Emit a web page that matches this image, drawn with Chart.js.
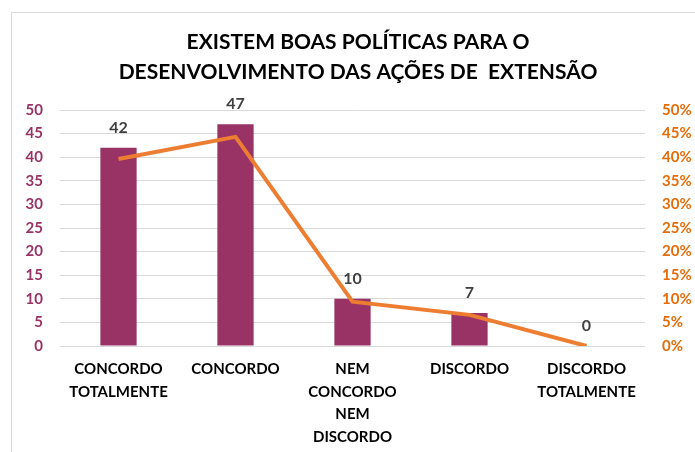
<!DOCTYPE html>
<html>
<head>
<meta charset="utf-8">
<script src="https://cdn.jsdelivr.net/npm/chart.js@4.4.0/dist/chart.umd.min.js"></script>
<style>
  html, body { margin: 0; padding: 0; background: #fff; }
  #frame { position: absolute; left: 11px; top: 12px; width: 720px; height: 480px; border: 1px solid #d9d9d9; }
  #wrap { position: absolute; left: 0; top: 0; width: 695px; height: 452px; }
</style>
</head>
<body>
<div id="frame"></div>
<div id="wrap"><canvas id="chart" width="695" height="452"></canvas></div>
<script>
const categories = [
  ['CONCORDO', 'TOTALMENTE'],
  'CONCORDO',
  ['NEM', 'CONCORDO', 'NEM', 'DISCORDO'],
  'DISCORDO',
  ['DISCORDO', 'TOTALMENTE']
];
const answers = [42, 47, 10, 7, 0];
const percents = [0.396, 0.443, 0.094, 0.066, 0];
const countTicks = [0, 5, 10, 15, 20, 25, 30, 35, 40, 45, 50];
const percentTicks = ['0%', '5%', '10%', '15%', '20%', '25%', '30%', '35%', '40%', '45%', '50%'];
const titleLines = ['EXISTEM BOAS POLÍTICAS PARA O', 'DESENVOLVIMENTO DAS AÇÕES DE  EXTENSÃO'];

const FONT = 'Lato, "Open Sans", sans-serif';

// two-line title, centred over the frame rather than the canvas
const chartTitle = {
  id: 'chartTitle',
  afterDraw(chart) {
    const ctx = chart.ctx;
    ctx.save();
    ctx.font = 'bold 21px ' + FONT;
    ctx.fillStyle = '#000';
    ctx.textAlign = 'center';
    ctx.textBaseline = 'middle';
    titleLines.forEach((line, i) => ctx.fillText(line, 358, 42 + i * 30));
    ctx.restore();
  }
};

// value labels above the bars
const barLabels = {
  id: 'barLabels',
  afterDatasetsDraw(chart) {
    const ctx = chart.ctx;
    const meta = chart.getDatasetMeta(1);
    ctx.save();
    ctx.font = 'bold 16px ' + FONT;
    ctx.fillStyle = '#404040';
    ctx.textAlign = 'center';
    ctx.textBaseline = 'middle';
    meta.data.forEach((bar, i) => {
      ctx.fillText(answers[i], bar.x, bar.y - 20);
    });
    ctx.restore();
  }
};

const ctx = document.getElementById('chart').getContext('2d');
const chart = new Chart(ctx, {
  type: 'bar',
  data: {
    labels: categories,
    datasets: [{
      type: 'line',
      label: 'Percentual',
      data: percents,
      yAxisID: 'y2',
      borderColor: '#ED7D31',
      borderWidth: 4,
      pointRadius: 0,
      tension: 0,
      order: 0
    }, {
      type: 'bar',
      label: 'Respostas',
      data: answers,
      yAxisID: 'y',
      backgroundColor: '#993366',
      barPercentage: 0.62,
      categoryPercentage: 0.5,
      order: 1
    }]
  },
  options: {
    responsive: false,
    animation: false,
    layout: { padding: { left: 0, right: 0, top: 110, bottom: 0 } },
    plugins: {
      legend: { display: false },
      tooltip: { enabled: false },
      title: { display: false }
    },
    scales: {
      x: {
        grid: { display: false, drawTicks: false },
        border: { display: false },
        ticks: {
          color: '#000',
          font: { family: FONT, size: 15, weight: 'bold', lineHeight: 1.5 },
          padding: 12,
          maxRotation: 0,
          autoSkip: false
        },
        afterFit(scale) { scale.height = 106; }
      },
      y: {
        position: 'left',
        min: 0,
        max: 50,
        afterBuildTicks(scale) { scale.ticks = countTicks.map(v => ({ value: v })); },
        grid: { color: '#d9d9d9', lineWidth: 1, drawTicks: false },
        border: { display: false },
        ticks: {
          color: '#993366',
          font: { family: FONT, size: 15, weight: 'bold' },
          padding: 17
        },
        afterFit(scale) { scale.width = 60; }
      },
      y2: {
        position: 'right',
        min: 0,
        max: 0.5,
        afterBuildTicks(scale) { scale.ticks = percentTicks.map((t, i) => ({ value: i * 0.05 })); },
        grid: { display: false, drawTicks: false },
        border: { display: false },
        ticks: {
          color: '#E46C0A',
          font: { family: FONT, size: 15, weight: 'bold' },
          padding: 17,
          callback: (v, i) => percentTicks[i]
        },
        afterFit(scale) { scale.width = 50; }
      }
    }
  },
  plugins: [barLabels, chartTitle]
});
</script>
</body>
</html>
